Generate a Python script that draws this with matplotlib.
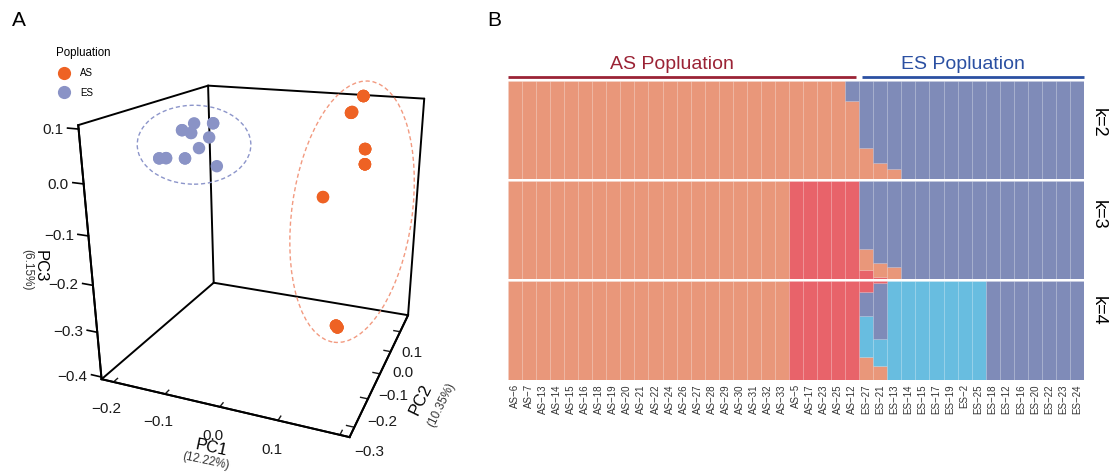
import matplotlib
matplotlib.use("Agg")
import matplotlib.pyplot as plt
from matplotlib.patches import Ellipse
from matplotlib.lines import Line2D
from matplotlib.transforms import IdentityTransform, blended_transform_factory
from mpl_toolkits.mplot3d import proj3d
import numpy as np

plt.rcParams['font.family'] = ['Liberation Sans', 'DejaVu Sans']

# ---------------- Panel A: PCA scores ----------------
as_pc1 = [0.103, 0.103, 0.103, 0.103, 0.091, 0.091, 0.091, 0.093, 0.093,
          0.129, 0.129, 0.129, 0.129, 0.130, 0.130, 0.130, 0.130,
          0.062, 0.062, 0.099, 0.099, 0.099, 0.096, 0.096, 0.096]
as_pc2 = [0.184, 0.184, 0.184, 0.184, 0.137, 0.137, 0.137, 0.137, 0.137,
          0.097, 0.097, 0.097, 0.097, 0.097, 0.097, 0.097, 0.097,
          0.058, 0.058, 0.057, 0.057, 0.057, 0.057, 0.057, 0.057]
as_pc3 = [0.106, 0.106, 0.106, 0.106, 0.076, 0.076, 0.076, 0.078, 0.078,
          0.009, 0.009, 0.009, 0.009, -0.024, -0.024, -0.024, -0.024,
          -0.095, -0.095, -0.400, -0.400, -0.400, -0.396, -0.396, -0.396]

es_pc1 = [-0.180, -0.180, -0.148, -0.098, -0.098, -0.169, -0.169, -0.113,
          -0.140, -0.207, -0.207, -0.193, -0.193, -0.169, -0.169, -0.093]
es_pc2 = [-0.044, -0.044, -0.060, -0.091, -0.091, -0.028, -0.028, -0.075,
          -0.060, -0.091, -0.091, -0.091, -0.091, -0.060, -0.060, -0.091]
es_pc3 = [0.048, 0.048, 0.068, 0.078, 0.078, 0.040, 0.040, 0.045,
          0.017, -0.005, -0.005, -0.003, -0.003, -0.008, -0.008, -0.009]

pc1_lim = (-0.224, 0.215)
pc2_lim = (-0.332, 0.192)
pc3_lim = (-0.405, 0.107)
pc1_ticks = [-0.2, -0.1, 0.0, 0.1, 0.2]
pc2_ticks = [-0.3, -0.2, -0.1, 0.0, 0.1]
pc3_ticks = [-0.4, -0.3, -0.2, -0.1, 0.0, 0.1]

# ---------------- Panel B: admixture proportions ----------------
samples = ["AS-6", "AS-7", "AS-13", "AS-14", "AS-15", "AS-16", "AS-18", "AS-19",
           "AS-20", "AS-21", "AS-22", "AS-24", "AS-26", "AS-27", "AS-28", "AS-29",
           "AS-30", "AS-31", "AS-32", "AS-33", "AS-5", "AS-17", "AS-23", "AS-25",
           "AS-12", "ES-27", "ES-21", "ES-13", "ES-14", "ES-15", "ES-17", "ES-19",
           "ES-2", "ES-25", "ES-18", "ES-12", "ES-16", "ES-20", "ES-22", "ES-23",
           "ES-24"]
n_as = 25

# k=2 (bottom -> top)
k2_orange = [1.0] * 24 + [0.80, 0.32, 0.16, 0.10] + [0.0] * 13
k2_blue = [0.0] * 24 + [0.20, 0.68, 0.84, 0.90] + [1.0] * 13
# k=3 (bottom -> top)
k3_red = [0.0] * 20 + [1.0] * 5 + [0.09, 0.02, 0.0] + [0.0] * 13
k3_orange = [1.0] * 20 + [0.0] * 5 + [0.22, 0.14, 0.12] + [0.0] * 13
k3_blue = [0.0] * 25 + [0.69, 0.84, 0.88] + [1.0] * 13
# k=4 (bottom -> top)
k4_orange = [1.0] * 20 + [0.0] * 5 + [0.23, 0.14] + [0.0] * 14
k4_cyan = [0.0] * 25 + [0.42, 0.27] + [1.0] * 7 + [0.0] * 7
k4_blue = [0.0] * 25 + [0.24, 0.57] + [0.0] * 7 + [1.0] * 7
k4_red = [0.0] * 20 + [1.0] * 5 + [0.11, 0.02] + [0.0] * 14

c_orange = "#E9977A"
c_red = "#E8636A"
c_blue = "#7F8BB8"
c_cyan = "#68BDE0"
mn = '\u2212'

fig = plt.figure(figsize=(11.11, 4.75), dpi=100)

# ================= Panel A =================
ax = fig.add_axes([0.0485, 0.0555, 0.3753, 0.878], projection='3d')
ax.computed_zorder = False
ax.view_init(elev=20, azim=-68.2)
ax.set_proj_type('persp', focal_length=0.316)
ax.set_box_aspect((1, 1, 1))

pt_or = "#EE6224"
pt_bl = "#8A93C6"

# box outline from the axis limits
x0_, x1_ = pc1_lim
y0_, y1_ = pc2_lim
z0_, z1_ = pc3_lim
edges = [((x0_, x0_), (y0_, y1_), (z1_, z1_)), ((x0_, x1_), (y1_, y1_), (z1_, z1_)),
         ((x0_, x0_), (y1_, y1_), (z0_, z1_)), ((x0_, x0_), (y0_, y1_), (z0_, z0_)),
         ((x0_, x1_), (y1_, y1_), (z0_, z0_)), ((x1_, x1_), (y1_, y1_), (z0_, z1_)),
         ((x0_, x0_), (y0_, y0_), (z0_, z1_)), ((x0_, x1_), (y0_, y0_), (z0_, z0_)),
         ((x1_, x1_), (y0_, y1_), (z0_, z0_))]
for ex, ey, ez in edges:
    ax.plot(ex, ey, ez, color='black', linewidth=1.4, zorder=1,
            solid_capstyle='round')

ax.scatter(es_pc1, es_pc2, es_pc3, s=80, color=pt_bl, depthshade=False,
           edgecolors='none', zorder=3)
ax.scatter(as_pc1, as_pc2, as_pc3, s=80, color=pt_or, depthshade=False,
           edgecolors='none', zorder=3)

ax.set_xlim(*pc1_lim)
ax.set_ylim(*pc2_lim)
ax.set_zlim(*pc3_lim)

ax.grid(False)
for axis in (ax.xaxis, ax.yaxis, ax.zaxis):
    axis.pane.fill = False
    axis.pane.set_edgecolor('none')
    axis.line.set_color('black')
    axis.line.set_linewidth(1.4)
    axis._axinfo['tick']['inward_factor'] = 0.0
    axis._axinfo['tick']['outward_factor'] = 0.35
    axis._axinfo['tick']['linewidth'] = {True: 1.0, False: 0.5}
ax.zaxis.set_ticks_position('lower')
ax.zaxis._axinfo['tick']['outward_factor'] = 0.0

ax.set_xticks(pc1_ticks)
ax.set_xticklabels([f"{v:.1f}".replace('-', mn) for v in pc1_ticks[:-1]] + [''])
ax.set_yticks(pc2_ticks)
ax.set_yticklabels([f"{v:.1f}".replace('-', mn) for v in pc2_ticks])
ax.set_zticks(pc3_ticks)
ax.set_zticklabels([''] * len(pc3_ticks))
ax.tick_params(labelsize=11, colors='#1a1a1a', pad=1)

# axis labels
fig.text(211 / 1111, 1 - 448 / 475, "PC1", fontsize=12, ha='center', va='center',
         rotation=-12)
fig.text(206 / 1111, 1 - 461 / 475, "(12.22%)", fontsize=8.5, ha='center',
         va='center', rotation=-12, color='#333333')
fig.text(421 / 1111, 1 - 399 / 475, "PC2", fontsize=12, ha='center', va='center',
         rotation=64)
fig.text(441 / 1111, 1 - 405 / 475, "(10.35%)", fontsize=8.5, ha='center',
         va='center', rotation=64, color='#333333')
fig.text(40 / 1111, 1 - 266 / 475, "PC3", fontsize=12, ha='center', va='center',
         rotation=-90)
fig.text(27 / 1111, 1 - 270 / 475, "(6.15%)", fontsize=8.5, ha='center',
         va='center', rotation=-90, color='#333333')

# legend
handles = [Line2D([], [], marker='o', linestyle='none', markersize=9.5,
                  markerfacecolor=pt_or, markeredgecolor='none'),
           Line2D([], [], marker='o', linestyle='none', markersize=9.5,
                  markerfacecolor=pt_bl, markeredgecolor='none')]
fig.legend(handles, ["AS", "ES"], title="Popluation", loc='upper left',
           bbox_to_anchor=(0.0504, 0.9007), frameon=False, fontsize=7,
           title_fontsize=8.3, alignment='left', handletextpad=0.88,
           labelspacing=0.95, handlelength=1.6, borderaxespad=0, borderpad=0)

fig.text(12 / 1111, 1 - 20 / 475, "A", fontsize=15, ha='left', va='center')

# projected screen positions, for the PC3 ticks and the cluster ellipses
fig.canvas.draw()
M = ax.get_proj()


def screen_pts(xs, ys, zs):
    px, py, _ = proj3d.proj_transform(np.array(xs, dtype=float),
                                      np.array(ys, dtype=float),
                                      np.array(zs, dtype=float), M)
    return ax.transData.transform(np.column_stack([px, py]))


# PC3 tick marks and labels on the front-left edge
tick_len = 0.02
nz = len(pc3_ticks)
p_in = screen_pts([x0_] * nz, [y0_] * nz, pc3_ticks)
p_out = screen_pts([x0_ - tick_len] * nz, [y0_] * nz, pc3_ticks)
for (xa, ya), (xb, yb), zt in zip(p_in, p_out, pc3_ticks):
    fig.add_artist(Line2D([xa, xb], [ya, yb], color='black', linewidth=1.2,
                          transform=IdentityTransform()))
    fig.text(xb - 4, yb - 2, f"{zt:.1f}".replace('-', mn), fontsize=11,
             color='#1a1a1a', ha='right', va='center',
             transform=IdentityTransform())

for xs, ys, zs, col, padx, pady, dx, ang in [
        (es_pc1, es_pc2, es_pc3, "#8C95CA", 28, 18, 6, 0),
        (as_pc1, as_pc2, as_pc3, "#F29A80", 39, 16, 8, -8)]:
    p = screen_pts(xs, ys, zs)
    cx = (p[:, 0].min() + p[:, 0].max()) / 2 + dx
    cy = (p[:, 1].min() + p[:, 1].max()) / 2
    w = p[:, 0].max() - p[:, 0].min() + 2 * padx
    h = p[:, 1].max() - p[:, 1].min() + 2 * pady
    fig.add_artist(Ellipse((cx, cy), w, h, angle=ang, fill=False, edgecolor=col,
                           linestyle=(0, (3, 2)), linewidth=1.0,
                           transform=IdentityTransform()))

# ================= Panel B =================
bx0, bx1 = 508 / 1111, 1084 / 1111
rows = [
    ([k2_orange, k2_blue], [c_orange, c_blue], "k=2", 81, 179, 0.57),
    ([k3_red, k3_orange, k3_blue], [c_red, c_orange, c_blue], "k=3", 181, 279, 0.65),
    ([k4_orange, k4_cyan, k4_blue, k4_red], [c_orange, c_cyan, c_blue, c_red], "k=4",
     281, 380, 0.70),
]
xpos = np.arange(len(samples))
axes_b = []
for comps, cols, lab, top, bot, ly in rows:
    axb = fig.add_axes([bx0, 1 - bot / 475, bx1 - bx0, (bot - top) / 475])
    bottom = np.zeros(len(samples))
    for vals, col in zip(comps, cols):
        axb.bar(xpos, vals, width=1.0, bottom=bottom, color=col,
                edgecolor=(1, 1, 1, 0.1), linewidth=0.5)
        bottom += np.array(vals)
    axb.set_xlim(-0.5, len(samples) - 0.5)
    axb.set_ylim(0, 1)
    for s in axb.spines.values():
        s.set_visible(False)
    axb.set_yticks([])
    axb.set_xticks([])
    axb.text(1.024, ly, lab, transform=axb.transAxes, rotation=-90, fontsize=13,
             ha='center', va='center')
    axes_b.append(axb)

axl = axes_b[-1]
axl.set_xticks(xpos)
axl.set_xticklabels([s.replace('-', mn) for s in samples], rotation=90,
                    fontsize=7, color='#333333')
axl.tick_params(axis='x', length=0, pad=3)

# population header lines
axt = axes_b[0]
tr = blended_transform_factory(axt.transData, axt.transAxes)
gap = 0.22
groups = [(-0.5, n_as - 0.5 - gap, "AS Popluation", "#9B2335"),
          (n_as - 0.5 + gap, len(samples) - 0.5, "ES Popluation", "#2B50A2")]
for a, b, name, col in groups:
    axt.plot([a, b], [1.044, 1.044], color=col, linewidth=2, transform=tr,
             clip_on=False, solid_capstyle='butt')
    axt.text((a + b) / 2 - 0.75, 1.12, name, color=col, fontsize=14,
             ha='center', va='baseline', transform=tr)

fig.text(487 / 1111, 1 - 20 / 475, "B", fontsize=15, ha='left', va='center')

fig.savefig("out.png", dpi=100)
